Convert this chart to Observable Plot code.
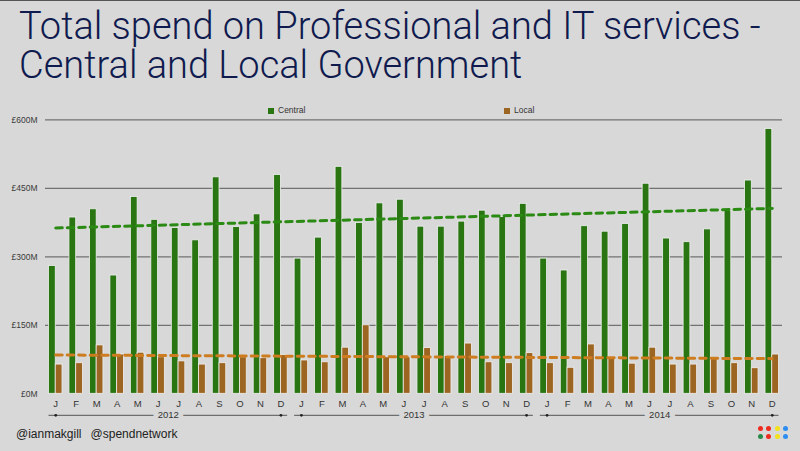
<!DOCTYPE html>
<html>
<head>
<meta charset="utf-8">
<script src="https://cdn.jsdelivr.net/npm/d3@7"></script>
<script src="https://cdn.jsdelivr.net/npm/@observablehq/plot@0.6"></script>
<style>
html, body { margin: 0; padding: 0; background: #d8d8d8; }
#page { position: relative; width: 800px; height: 451px; overflow: hidden; background: #d8d8d8; }
#topline { position: absolute; left: 0; top: 0; width: 800px; height: 1px; background: #555; }
.title { position: absolute; left: 19px; font-family: Roboto, "Liberation Sans", sans-serif; font-weight: 300; font-size: 38px; line-height: 38px; height: 38px; color: #0f1a4e; white-space: nowrap; }
#chart { position: absolute; left: 0; top: 95px; }
.leg { position: absolute; top: 105px; font-family: "Liberation Sans", Arial, sans-serif; font-size: 8.5px; color: #333; line-height: 10px; }
.leg i { display: inline-block; width: 6px; height: 6px; margin-right: 4px; vertical-align: -0.5px; }
#footer { position: absolute; left: 16px; top: 427px; font-family: "Liberation Sans", Arial, sans-serif; font-size: 12px; color: #222; }
#footer span { margin-right: 9px; }
#logo { position: absolute; left: 758px; top: 426px; width: 32px; height: 16px; }
#logo b { position: absolute; width: 5px; height: 5px; border-radius: 50%; }
</style>
</head>
<body>
<div id="page">
  <div id="topline"></div>
  <div class="title" style="top:7px">Total spend on Professional and IT services -</div>
  <div class="title" style="top:46px">Central and Local Government</div>
  <div class="leg" style="left:268px"><i style="background:#287512"></i>Central</div>
  <div class="leg" style="left:504px"><i style="background:#9c6521"></i>Local</div>
  <div id="chart"></div>
  <div id="footer"><span>@ianmakgill</span><span>@spendnetwork</span></div>
  <div id="logo">
    <b style="left:0;top:0;background:#ee2b1c"></b>
    <b style="left:8px;top:0;background:#ee2b1c"></b>
    <b style="left:17px;top:0;background:#f3e21b"></b>
    <b style="left:25px;top:0;background:#2b8ef0"></b>
    <b style="left:0;top:8px;background:#2a8a4c"></b>
    <b style="left:8px;top:8px;background:#ee2b1c"></b>
    <b style="left:17px;top:8px;background:#f3e21b"></b>
    <b style="left:25px;top:8px;background:#2b8ef0"></b>
  </div>
</div>
<script>
// ---- data, £ millions ----
const months = ["J","F","M","A","M","J","J","A","S","O","N","D"];
const years = [2012, 2013, 2014];
const central2012 = [280, 386, 404, 259, 431, 381, 363, 336, 474, 365, 393, 479];
const local2012   = [64, 67, 106, 86, 90, 80, 71, 64, 67, 80, 78, 85];
const central2013 = [296, 342, 497, 374, 417, 425, 366, 366, 377, 401, 387, 416];
const local2013   = [73, 69, 101, 150, 80, 80, 100, 83, 110, 69, 67, 89];
const central2014 = [296, 270, 367, 355, 372, 460, 340, 332, 360, 401, 467, 580];
const local2014   = [67, 57, 108, 76, 66, 101, 64, 64, 78, 67, 56, 86];
const trendCentral = [363, 406];   // dashed trend line, start / end
const trendLocal = [85, 77];
const yTicks = [0, 150, 300, 450, 600];
const gridTicks = [150, 300, 450, 600];

const centralByYear = [central2012, central2013, central2014];
const localByYear = [local2012, local2013, local2014];
const rows = years.flatMap((yr, yi) => months.map((m, mi) => ({
  id: `${yr}-${mi}`, month: m, year: yr,
  central: centralByYear[yi][mi], local: localByYear[yi][mi]
})));
const ids = rows.map(d => d.id);
const monthOf = new Map(rows.map(d => [d.id, d.month]));
const trendRows = [
  {id: ids[0], central: trendCentral[0], local: trendLocal[0]},
  {id: ids[ids.length - 1], central: trendCentral[1], local: trendLocal[1]}
];
const yearRows = years.map(yr => ({year: yr, first: `${yr}-0`, last: `${yr}-11`, mid: `${yr}-5`, base: 0}));
const yearEnds = yearRows.flatMap(d => [{id: d.first, base: 0}, {id: d.last, base: 0}]);

const W = 800, H = 335, mL = 45, mR = 18;
const pIn = 0.34, pOut = 0.17;
const step = (W - mL - mR) / (ids.length - pIn + 2 * pOut);
const bw = step * (1 - pIn);

const chart = Plot.plot({
  width: W, height: H,
  marginTop: 24.3, marginBottom: 36.7, marginLeft: mL, marginRight: mR,
  style: {background: "transparent", fontFamily: "'Liberation Sans', Arial, sans-serif", overflow: "visible"},
  x: {type: "band", domain: ids, paddingInner: pIn, paddingOuter: pOut, round: false},
  y: {domain: [0, 600]},
  marks: [
    Plot.ruleY(gridTicks, {stroke: "#727272", strokeWidth: 1.2}),
    Plot.axisY(yTicks, {tickSize: 0, tickPadding: 8, tickFormat: d => `£${d}M`, fontSize: 8.5, fill: "#3a3a3a", label: null}),
    Plot.axisX(ids, {tickSize: 0, tickPadding: 6, tickFormat: id => monthOf.get(id), fontSize: 9.5, fill: "#333", label: null}),
    Plot.barY(rows, {x: "id", y: "central", fill: "#287512", stroke: "#f0f0f0", strokeWidth: 0.8, insetRight: bw / 2}),
    Plot.barY(rows, {x: "id", y: "local", fill: "#9c6521", stroke: "#f0f0f0", strokeWidth: 0.8, insetLeft: bw / 2}),
    Plot.line(trendRows, {x: "id", y: "central", stroke: "#2b8a13", strokeWidth: 3, strokeDasharray: "6.5 5"}),
    Plot.line(trendRows, {x: "id", y: "local", stroke: "#cd7d20", strokeWidth: 3, strokeDasharray: "6.5 5"}),
    Plot.ruleY(yearRows, {y: "base", x1: "first", x2: "last", dy: 21.5, stroke: "#333", strokeWidth: 0.8}),
    Plot.dot(yearEnds, {x: "id", y: "base", dy: 21.5, r: 1.4, fill: "#222", stroke: null}),
    Plot.text(yearRows, {x: "mid", y: "base", dx: step / 2, dy: 21.5, text: d => String(d.year), fontSize: 9.5, fill: "#333", stroke: "#d8d8d8", strokeWidth: 10})
  ]
});
document.getElementById("chart").appendChild(chart);
</script>
</body>
</html>
